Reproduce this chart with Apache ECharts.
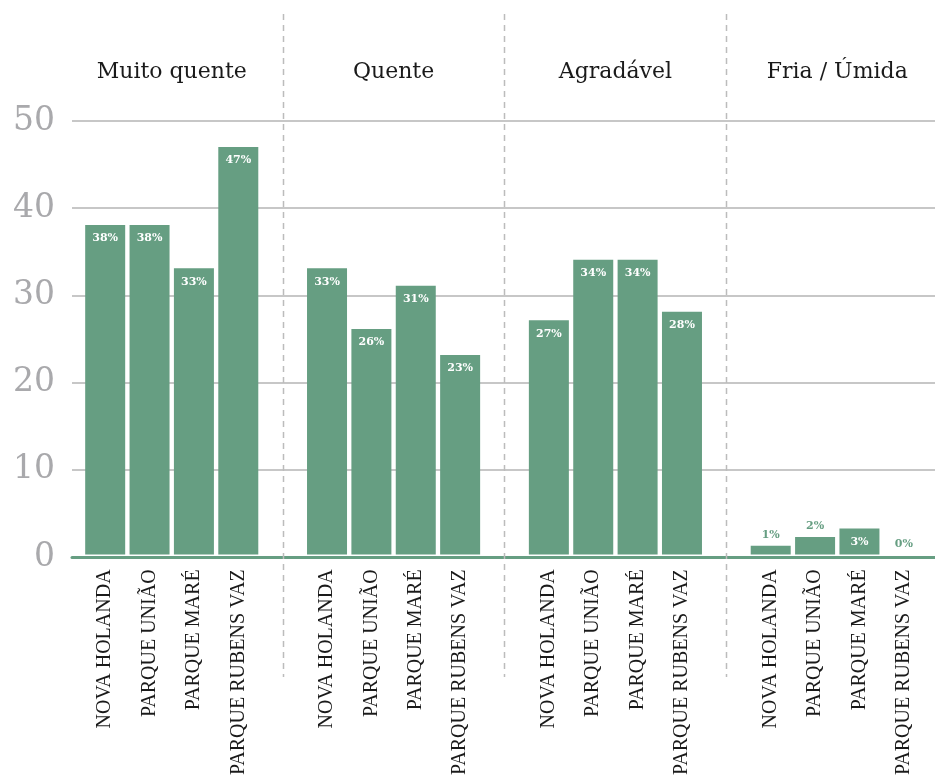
<!DOCTYPE html>
<html>
<head>
<meta charset="utf-8">
<script src="https://cdn.jsdelivr.net/npm/echarts@6/dist/echarts.min.js"></script>
<style>
  html, body { margin: 0; padding: 0; background: #fff; }
  #chart { width: 935px; height: 778px; }
</style>
</head>
<body>
<div id="chart"></div>
<script>
// dados
const bairros = ['NOVA HOLANDA', 'PARQUE UNIÃO', 'PARQUE MARÉ', 'PARQUE RUBENS VAZ'];
const grupos = ['Muito quente', 'Quente', 'Agradável', 'Fria / Úmida'];
const muitoQuente = [38, 38, 33, 47];
const quente = [33, 26, 31, 23];
const agradavel = [27, 34, 34, 28];
const friaUmida = [1, 2, 3, 0];
const yTicks = [0, 10, 20, 30, 40, 50];

const verde = '#669e82';
const serif = 'DejaVu Serif';

// categorias com um espaço vazio entre os grupos
let cats = [];
let valores = [];
let separadores = [];
[muitoQuente, quente, agradavel, friaUmida].forEach((serie, g) => {
  if (g > 0) {
    separadores.push(cats.length);
    cats.push(' '.repeat(g));
    valores.push(null);
  }
  for (let i = 0; i < serie.length; i++) {
    cats.push(bairros[i]);
    const v = serie[i];
    // barras pequenas: rótulo por cima, em verde
    if (v <= 2) {
      valores.push({ value: v, label: { position: 'top', distance: 5, color: verde } });
    } else {
      valores.push(v);
    }
  }
});

let chartDom = document.getElementById('chart');
let myChart = echarts.init(chartDom);

const gridTop = 121, gridBottom = 221;

let option = {
  animation: false,
  grid: [
    { left: 83, right: 9, top: gridTop, bottom: gridBottom },
    { left: 72, right: 0, top: gridTop, bottom: gridBottom }
  ],
  xAxis: [
    {
      type: 'category',
      gridIndex: 0,
      data: cats,
      axisLine: { show: false },
      axisTick: { show: false },
      axisLabel: {
        rotate: 90,
        interval: 0,
        margin: 15,
        fontFamily: 'Liberation Serif',
        fontSize: 20,
        color: '#1a1a1a'
      }
    },
    {
      // títulos dos grupos no topo
      type: 'value',
      gridIndex: 0,
      position: 'top',
      min: 0,
      max: cats.length,
      interval: 1,
      axisLine: { show: false },
      axisTick: { show: false },
      splitLine: { show: false },
      axisLabel: {
        margin: 38,
        fontFamily: serif,
        fontSize: 22,
        color: '#1a1a1a',
        formatter: function (v) {
          if (v >= 2 && (v - 2) % 5 === 0) return grupos[(v - 2) / 5] || '';
          return '';
        }
      }
    },
    {
      type: 'value',
      gridIndex: 1,
      min: 0,
      max: 1,
      axisLine: { show: true, lineStyle: { color: verde, width: 3 } },
      axisTick: { show: false },
      axisLabel: { show: false },
      splitLine: { show: false }
    }
  ],
  yAxis: [
    {
      type: 'value',
      gridIndex: 0,
      min: yTicks[0],
      max: yTicks[yTicks.length - 1],
      interval: 10,
      show: false
    },
    {
      type: 'value',
      gridIndex: 1,
      min: yTicks[0],
      max: yTicks[yTicks.length - 1],
      interval: 10,
      axisLine: { show: false },
      axisTick: { show: false },
      axisLabel: {
        margin: 17,
        fontFamily: serif,
        fontSize: 33,
        color: '#a9a9ac'
      },
      splitLine: { lineStyle: { color: '#b5b5b5', width: 1.5 } }
    }
  ],
  series: [
    {
      type: 'bar',
      xAxisIndex: 0,
      yAxisIndex: 0,
      barWidth: 40,
      itemStyle: { color: verde },
      label: {
        show: true,
        position: 'insideTop',
        distance: 8,
        fontFamily: serif,
        fontWeight: 'bold',
        fontSize: 11,
        color: '#fff',
        formatter: p => p.value + '%'
      },
      data: valores,
      z: 3
    }
  ]
};

option && myChart.setOption(option);

// linhas tracejadas entre os grupos
let linhas = separadores.map(idx => {
  let x = Math.round(myChart.convertToPixel({ xAxisIndex: 0 }, idx)) + 0.5;
  return {
    type: 'line',
    shape: { x1: x, y1: 14, x2: x, y2: 677 },
    style: { stroke: '#bcbcbc', lineWidth: 1.5, lineDash: [6, 5] },
    z: 10
  };
});
myChart.setOption({ graphic: linhas });
</script>
</body>
</html>
